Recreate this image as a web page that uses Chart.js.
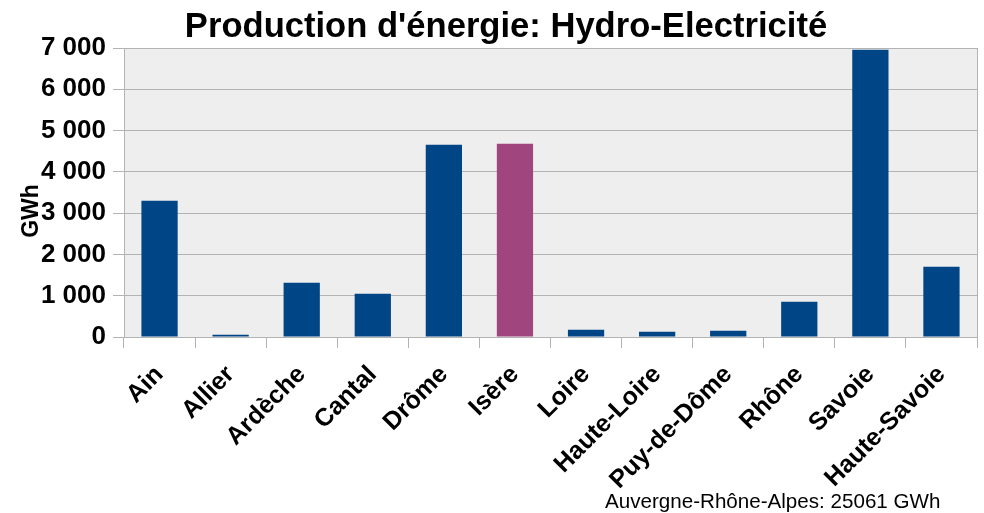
<!DOCTYPE html>
<html>
<head>
<meta charset="utf-8">
<script src="https://cdn.jsdelivr.net/npm/chart.js@4"></script>
<style>
html,body{margin:0;padding:0;background:#fff;}
#wrap{width:984px;height:513px;position:relative;}
</style>
</head>
<body>
<div id="wrap"><canvas id="c" width="984" height="513"></canvas></div>
<script>
const categories = ['Ain','Allier','Ardèche','Cantal','Drôme','Isère','Loire','Haute-Loire','Puy-de-Dôme','Rhône','Savoie','Haute-Savoie'];
const production = [3300, 55, 1315, 1048, 4656, 4680, 177, 128, 153, 855, 6957, 1702];
const highlighted = 'Isère';
const yTicks = [0, 1000, 2000, 3000, 4000, 5000, 6000, 7000];
const titleText = "Production d'énergie: Hydro-Electricité";
const axisTitle = 'GWh';
const footnote = 'Auvergne-Rhône-Alpes: 25061 GWh';

const blue = '#004586', purple = '#a0457e', gridCol = '#b3b3b3';
const FONT = '"Liberation Sans", Arial, sans-serif';

const decor = {
  id: 'decor',
  beforeDraw(chart) {
    const {ctx, chartArea: a} = chart;
    ctx.save();
    ctx.fillStyle = '#eeeeee';
    ctx.fillRect(a.left, a.top, a.right - a.left, a.bottom - a.top);
    ctx.restore();
  },
  afterDraw(chart) {
    const {ctx, chartArea: a} = chart;
    ctx.save();
    ctx.strokeStyle = gridCol;
    ctx.lineWidth = 1;
    ctx.beginPath();
    ctx.moveTo(Math.round(a.right) + 0.5, a.top);
    ctx.lineTo(Math.round(a.right) + 0.5, a.bottom);
    ctx.stroke();
    ctx.fillStyle = '#000';
    ctx.textBaseline = 'alphabetic';
    ctx.textAlign = 'center';
    ctx.font = 'bold 34.6px ' + FONT;
    ctx.fillText(titleText, 506, 37);
    ctx.font = '20.6px ' + FONT;
    ctx.textAlign = 'left';
    ctx.fillText(footnote, 605, 508);
    ctx.translate(38, 211);
    ctx.rotate(-Math.PI / 2);
    ctx.textAlign = 'center';
    ctx.font = 'bold 23px ' + FONT;
    ctx.fillText(axisTitle, 0, 0);
    ctx.restore();
  }
};

new Chart(document.getElementById('c'), {
  type: 'bar',
  data: {
    labels: categories,
    datasets: [{
      data: production,
      backgroundColor: categories.map(c => c === highlighted ? purple : blue),
      barPercentage: 0.51,
      categoryPercentage: 1.0
    }]
  },
  options: {
    responsive: false,
    animation: false,
    layout: {padding: {top: 48, right: 7, left: 0, bottom: 0}},
    plugins: {legend: {display: false}, tooltip: {enabled: false}, title: {display: false}},
    scales: {
      x: {
        grid: {display: true, drawOnChartArea: false, color: gridCol, tickLength: 11, offset: true},
        border: {color: gridCol},
        ticks: {
          autoSkip: false, minRotation: 45, maxRotation: 45,
          color: '#000', font: {family: FONT, size: 25, weight: 'bold'}, padding: 12
        },
        afterFit(scale) { scale.height = 513 - 337; }
      },
      y: {
        min: 0, max: 7000,
        afterBuildTicks(scale) { scale.ticks = yTicks.map(v => ({value: v})); },
        grid: {color: gridCol, tickLength: 11},
        border: {color: gridCol},
        ticks: {
          color: '#000', font: {family: FONT, size: 26, weight: 'bold'}, padding: 7,
          callback: v => String(v).replace(/\B(?=(\d{3})+(?!\d))/g, ' ')
        },
        afterFit(scale) { scale.width = 124; }
      }
    }
  },
  plugins: [decor]
});
</script>
</body>
</html>
